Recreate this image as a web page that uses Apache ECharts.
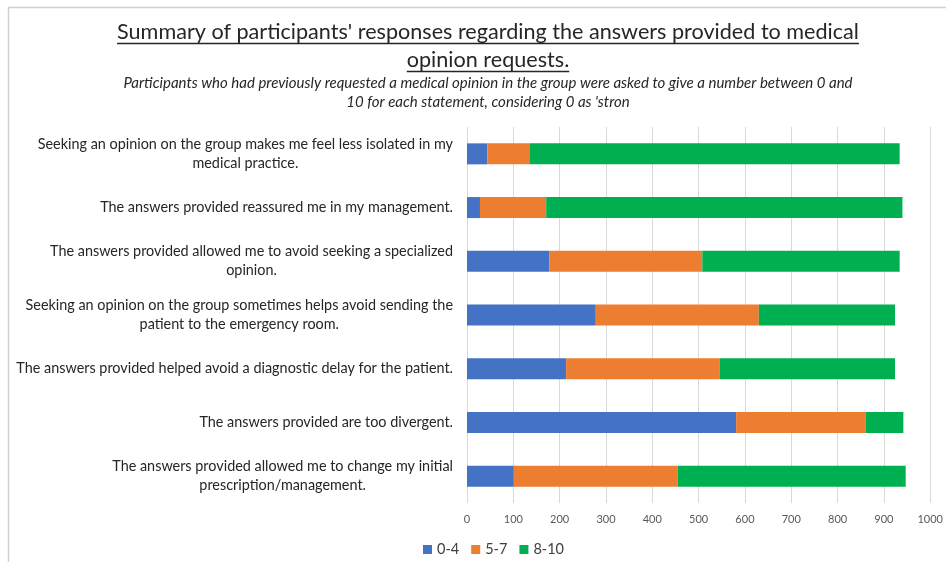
<!DOCTYPE html>
<html><head><meta charset="utf-8">
<script src="https://cdn.jsdelivr.net/npm/echarts@6/dist/echarts.min.js"></script>
<style>html,body{margin:0;padding:0;background:#fff}#c{width:946px;height:562px}</style>
</head><body><div id="c"></div>
<script>
const categories = [
  "Seeking an opinion on the group makes me feel less isolated in my\nmedical practice.",
  "The answers provided reassured me in my management.",
  "The answers provided allowed me to avoid seeking a specialized\nopinion.",
  "Seeking an opinion on the group sometimes helps avoid sending the\npatient to the emergency room.",
  "The answers provided helped avoid a diagnostic delay for the patient.",
  "The answers provided are too divergent.",
  "The answers provided allowed me to change my initial\nprescription/management."
];
const low = [44, 28, 178, 278, 214, 581, 101];
const mid = [92, 143, 330, 352, 331, 280, 354];
const high = [798, 769, 426, 294, 379, 81, 492];
const seriesNames = ["0-4", "5-7", "8-10"];
const xTicks = [0, 100, 200, 300, 400, 500, 600, 700, 800, 900, 1000];

const titleLine1 = "Summary of participants' responses regarding the answers provided to medical";
const titleLine2 = "opinion requests.";
const subLine1 = "Participants who had previously requested a medical opinion in the group were asked to give a number between 0 and";
const subLine2 = "10 for each statement, considering 0 as 'stron";

const FONT = "Lato";
const titleSize = 21.6;
const subSize = 15;
const labelSize = 14.4;
const cx = 488;

function measure(text, font) {
  const ctx = document.createElement('canvas').getContext('2d');
  ctx.font = font;
  return ctx.measureText(text).width;
}
const w1 = measure(titleLine1, titleSize + "px " + FONT);
const w2 = measure(titleLine2, titleSize + "px " + FONT);

const chart = echarts.init(document.getElementById('c'));
const colors = ['#4472C4', '#ED7D31', '#00B050'];
const values = [low, mid, high];

function txt(text, y, size, italic) {
  return { type: 'text', silent: true, style: {
    text: text, x: cx, y: y, align: 'center', verticalAlign: 'middle',
    font: (italic ? 'italic ' : '') + size + 'px ' + FONT, fill: '#262626' } };
}

chart.setOption({
  animation: false,
  textStyle: { fontFamily: FONT },
  graphic: [
    { type: 'rect', shape: { x: 8.5, y: 7.5, width: 1000, height: 700 }, style: { fill: 'none', stroke: '#d0d0d0', lineWidth: 1.5 }, silent: true },
    txt(titleLine1, 32, titleSize, false),
    txt(titleLine2, 60, titleSize, false),
    txt(subLine1, 83, subSize, true),
    txt(subLine2, 102, subSize, true),
    { type: 'line', shape: { x1: cx - w1 / 2, y1: 43.5, x2: cx + w1 / 2, y2: 43.5 }, style: { stroke: '#262626', lineWidth: 1.3 }, silent: true },
    { type: 'line', shape: { x1: cx - w2 / 2, y1: 71.5, x2: cx + w2 / 2, y2: 71.5 }, style: { stroke: '#262626', lineWidth: 1.3 }, silent: true }
  ],
  legend: {
    data: seriesNames, left: 418, top: 537, itemWidth: 9, itemHeight: 9, itemGap: 12,
    icon: 'rect', textStyle: { fontFamily: FONT, fontSize: 14.5, color: '#404040' }
  },
  grid: { left: 467, right: 13, top: 127, bottom: 59, containLabel: false },
  xAxis: {
    type: 'value', min: 0, max: 1000, interval: 100,
    axisLine: { show: false }, axisTick: { show: false },
    splitLine: { lineStyle: { color: '#d9d9d9', width: 1 } },
    axisLabel: { fontFamily: FONT, fontSize: 11, color: '#595959', margin: 11,
      formatter: v => xTicks.includes(v) ? String(v) : '' }
  },
  yAxis: {
    type: 'category', inverse: true, data: categories,
    axisLine: { show: false }, axisTick: { show: false },
    axisLabel: {
      margin: 14, fontFamily: FONT, fontSize: labelSize, color: '#262626', lineHeight: 19,
      formatter: v => v.split("\n").map(s => "{a|" + s + "}").join("\n"),
      rich: { a: { align: 'center', fontFamily: FONT, fontSize: labelSize, color: '#262626', lineHeight: 19 } }
    }
  },
  series: seriesNames.map((n, i) => ({
    name: n, type: 'bar', stack: 'total', barWidth: 21, data: values[i],
    itemStyle: { color: colors[i] }
  }))
});
</script></body></html>
